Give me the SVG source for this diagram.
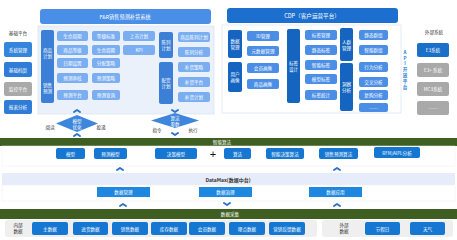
<svg xmlns="http://www.w3.org/2000/svg" width="457" height="240" viewBox="0 0 457 240">
<style>
text{font-family:"Noto Sans CJK SC","Noto Sans",sans-serif;font-size:4.6px;text-anchor:middle;dominant-baseline:central}
.w{fill:#fff}
.d{fill:#333}
.fb{fill:#7aaef0}
.fv{fill:#3b80d6}
.cb{fill:#4b8ee6}
.cv{fill:#1565c0}
.lb{fill:#1677d2}
.gr{fill:#a9a9a9}
.chev{fill:none;stroke:#2f74c8;stroke-width:2;stroke-linecap:round;stroke-linejoin:round}
</style>
<rect width="457" height="240" fill="#fff"/>
<!-- panels -->
<rect x="38" y="26" width="176" height="88" fill="#eaf1fb" stroke="#d3deed" stroke-width="0.6"/>
<rect x="222" y="25" width="179" height="88" fill="#fff" stroke="#d3deed" stroke-width="0.6"/>
<g id="fr-title"><rect x="40" y="9" width="171" height="15" rx="3" fill="#4a8fe7"/><text x="125" y="16.5" class="w" style="font-size:5.2px">F&amp;R销售预测补货系统</text></g>
<g id="cdp-title"><rect x="227" y="8" width="171" height="15" rx="3" fill="#1c6fce"/><text x="312" y="15.5" class="w" style="font-size:5.6px">CDP（客户运营平台）</text></g>
<!-- base platform -->
<text x="18" y="33" class="d">基础平台</text>
<g id="b1"><rect x="4" y="42" width="28" height="15" rx="2" fill="#3585dc"/><text x="18" y="49.5" class="w">系统管理</text></g>
<g id="b2"><rect x="4" y="62" width="28" height="15" rx="2" fill="#2f7dd6"/><text x="18" y="69.5" class="w">基础档案</text></g>
<g id="b3"><rect x="4" y="82" width="28" height="14" rx="2" class="gr"/><text x="18" y="89" class="w">监控平台</text></g>
<g id="b4"><rect x="4" y="100" width="28" height="14" rx="2" fill="#2f7dd6"/><text x="18" y="107" class="w">报表分析</text></g>
<!-- F&R -->
<g id="v1"><rect x="41" y="30" width="13" height="47" rx="2" class="fv"/><text x="47.5" y="50" class="w">商品</text><text x="47.5" y="56" class="w">计划</text></g>
<g id="v2"><rect x="41" y="73" width="13" height="30" rx="2" class="fv"/><text x="47.5" y="85" class="w">销售</text><text x="47.5" y="91" class="w">预测</text></g>
<g id="f1"><rect x="57" y="31" width="31" height="10" rx="2" class="fb"/><text x="72.5" y="36" class="w">生命周期</text></g>
<g id="f2"><rect x="92" y="31" width="28" height="10" rx="2" class="fb"/><text x="106" y="36" class="w">等级标准</text></g>
<g id="f3"><rect x="123" y="31" width="32" height="10" rx="2" class="fb"/><text x="139" y="36" class="w">上市计划</text></g>
<g id="f4"><rect x="57" y="45" width="31" height="10" rx="2" class="fb"/><text x="72.5" y="50" class="w">商品等级</text></g>
<g id="f5"><rect x="92" y="45" width="28" height="10" rx="2" class="fb"/><text x="106" y="50" class="w">生命周期</text></g>
<g id="f6"><rect x="123" y="45" width="32" height="10" rx="2" class="fb"/><text x="139" y="50" class="w">KPI</text></g>
<g id="f7"><rect x="57" y="58" width="31" height="10" rx="2" class="fb"/><text x="72.5" y="63" class="w">日期设置</text></g>
<g id="f8"><rect x="92" y="58" width="28" height="10" rx="2" class="fb"/><text x="106" y="63" class="w">分配策略</text></g>
<g id="f9"><rect x="57" y="73" width="31" height="10" rx="2" class="fb"/><text x="72.5" y="78" class="w">预测审核</text></g>
<g id="f10"><rect x="92" y="73" width="28" height="10" rx="2" class="fb"/><text x="106" y="78" class="w">预测策略</text></g>
<g id="f11"><rect x="57" y="90" width="31" height="10" rx="2" class="fb"/><text x="72.5" y="95" class="w">预测平台</text></g>
<g id="f12"><rect x="92" y="90" width="28" height="10" rx="2" class="fb"/><text x="106" y="95" class="w">预测查询</text></g>
<g id="v3"><rect x="159" y="32" width="14" height="26" rx="2" class="fv"/><text x="166" y="42" class="w">陈列</text><text x="166" y="48" class="w">计划</text></g>
<g id="v4"><rect x="159" y="62" width="14" height="42" rx="2" class="fv"/><text x="166" y="80" class="w">配货</text><text x="166" y="86" class="w">计划</text></g>
<g id="f13"><rect x="178" y="32" width="32" height="10" rx="2" class="fb"/><text x="194" y="37" class="w">商品陈列计划</text></g>
<g id="f14"><rect x="178" y="47" width="32" height="10" rx="2" class="fb"/><text x="194" y="52" class="w">陈列分析</text></g>
<g id="f15"><rect x="178" y="62" width="32" height="10" rx="2" class="fb"/><text x="194" y="67" class="w">补货策略</text></g>
<g id="f16"><rect x="178" y="77" width="32" height="10" rx="2" class="fb"/><text x="194" y="82" class="w">补货平台</text></g>
<g id="f17"><rect x="178" y="92" width="32" height="10" rx="2" class="fb"/><text x="194" y="97" class="w">补货计划</text></g>
<!-- CDP -->
<g id="c-v1"><rect x="228" y="30" width="14" height="28" rx="2" class="cv"/><text x="235" y="41" class="w">数据</text><text x="235" y="47" class="w">管理</text></g>
<g id="c-v2"><rect x="228" y="62" width="14" height="30" rx="2" class="cv"/><text x="235" y="74" class="w">用户</text><text x="235" y="80" class="w">画像</text></g>
<g id="c1"><rect x="247" y="31" width="32" height="10" rx="2" class="cb"/><text x="263" y="36" class="w">ID管理</text></g>
<g id="c2"><rect x="247" y="46" width="32" height="10" rx="2" class="cb"/><text x="263" y="51" class="w">元数据管理</text></g>
<g id="c3"><rect x="247" y="63" width="32" height="10" rx="2" class="cb"/><text x="263" y="68" class="w">会员画像</text></g>
<g id="c4"><rect x="247" y="79" width="32" height="10" rx="2" class="cb"/><text x="263" y="84" class="w">商品画像</text></g>
<g id="c-v3"><rect x="287" y="29" width="13" height="74" rx="2" class="cv"/><text x="293.5" y="63" class="w">标签</text><text x="293.5" y="69" class="w">设计</text></g>
<g id="c5"><rect x="305" y="30" width="32" height="10" rx="2" class="cb"/><text x="321" y="35" class="w">标签管理</text></g>
<g id="c6"><rect x="305" y="45" width="32" height="10" rx="2" class="cb"/><text x="321" y="50" class="w">静态标签</text></g>
<g id="c7"><rect x="305" y="60" width="32" height="10" rx="2" class="cb"/><text x="321" y="65" class="w">智能标签</text></g>
<g id="c8"><rect x="305" y="74" width="32" height="10" rx="2" class="cb"/><text x="321" y="79" class="w">模型标签</text></g>
<g id="c9"><rect x="305" y="90" width="32" height="10" rx="2" class="cb"/><text x="321" y="95" class="w">标签统计</text></g>
<g id="c-v4"><rect x="340" y="28" width="13" height="33" rx="2" class="cv"/><text x="346.5" y="41.5" class="w">人群</text><text x="346.5" y="47.5" class="w">管理</text></g>
<g id="c-v5"><rect x="340" y="63" width="13" height="48" rx="2" class="cv"/><text x="346.5" y="84" class="w">洞察</text><text x="346.5" y="90" class="w">分析</text></g>
<g id="c10"><rect x="359" y="30" width="29" height="10" rx="2" class="cb"/><text x="373.5" y="35" class="w">静态群组</text></g>
<g id="c11"><rect x="359" y="45" width="29" height="10" rx="2" class="cb"/><text x="373.5" y="50" class="w">智能群组</text></g>
<g id="c12"><rect x="359" y="62" width="29" height="10" rx="2" class="cb"/><text x="373.5" y="67" class="w">行为分析</text></g>
<g id="c13"><rect x="359" y="77" width="29" height="10" rx="2" class="cb"/><text x="373.5" y="82" class="w">交叉分析</text></g>
<g id="c14"><rect x="359" y="90" width="29" height="10" rx="2" class="cb"/><text x="373.5" y="95" class="w">复购分析</text></g>
<g id="c15"><rect x="359" y="103" width="29" height="9" rx="2" class="cb"/><text x="373.5" y="107.5" class="w">……</text></g>
<g id="api" style="font-weight:bold">
<text x="405" y="52" style="fill:#2b7fd8;font-size:4.6px">A</text>
<text x="405" y="57.5" style="fill:#2b7fd8;font-size:4.6px">P</text>
<text x="405" y="63" style="fill:#2b7fd8;font-size:4.6px">I</text>
<text x="405" y="69" style="fill:#2b7fd8;font-size:4.6px">开</text>
<text x="405" y="75" style="fill:#2b7fd8;font-size:4.6px">放</text>
<text x="405" y="81" style="fill:#2b7fd8;font-size:4.6px">平</text>
<text x="405" y="87" style="fill:#2b7fd8;font-size:4.6px">台</text>
</g>
<!-- external -->
<text x="434" y="32" class="d">外部系统</text>
<g id="e1"><rect x="417" y="43" width="32" height="14" rx="2" fill="#1a6fc9"/><text x="433" y="50" class="w">E3系统</text></g>
<g id="e2"><rect x="417" y="63" width="32" height="14" rx="2" class="gr"/><text x="433" y="70" class="w">E3+ 系统</text></g>
<g id="e3"><rect x="417" y="82" width="32" height="14" rx="2" class="gr"/><text x="433" y="89" class="w">MC3系统</text></g>
<g id="e4"><rect x="417" y="101" width="32" height="14" rx="2" class="gr"/><text x="433" y="108" class="w">……</text></g>
<!-- diamonds -->
<g id="dm1"><polygon points="77,115 98,123.5 77,132 56,123.5" fill="#3d86dc"/><text x="77" y="121" class="w">模型</text><text x="77" y="126.5" class="w">优化</text></g>
<g id="dm2"><polygon points="175,113 199,120.5 175,128 151,120.5" fill="#3d86dc"/><text x="175" y="118" class="w">算法</text><text x="175" y="123.5" class="w">参数</text></g>
<text x="50" y="127" class="d">阅读</text>
<text x="101" y="127" class="d">投递</text>
<text x="157" y="130" class="d">指令</text>
<text x="193" y="130" class="d">执行</text>
<!-- intelligent algorithm -->
<g id="alg-bar"><rect x="0" y="138" width="457" height="8" fill="#3f5f22"/><text x="222" y="142" class="w">智能算法</text></g>
<rect x="2" y="146" width="453" height="20" fill="#fff" stroke="#eee" stroke-width="0.5"/>
<g id="a1"><rect x="56" y="148" width="29" height="11" rx="2" class="lb"/><text x="70.5" y="153.5" class="w">模型</text></g>
<g id="a2"><rect x="94" y="148" width="33" height="11" rx="2" class="lb"/><text x="110.5" y="153.5" class="w">预测模型</text></g>
<g id="a3"><rect x="155" y="148" width="42" height="11" rx="2" class="lb"/><text x="176" y="153.5" class="w">决策模型</text></g>
<text x="213" y="154" style="font-size:11px;fill:#111;font-family:'Liberation Sans',sans-serif">+</text>
<g id="a4"><rect x="224" y="148" width="27" height="11" rx="2" class="lb"/><text x="237.5" y="153.5" class="w">算法</text></g>
<g id="a5"><rect x="266" y="148" width="38" height="11" rx="2" class="lb"/><text x="285" y="153.5" class="w">智能决策算法</text></g>
<g id="a6"><rect x="319" y="148" width="39" height="11" rx="2" class="lb"/><text x="338.5" y="153.5" class="w">销售预测算法</text></g>
<g id="a7"><rect x="374" y="147" width="46" height="11" rx="2" class="lb"/><text x="397" y="152.5" class="w">RFM/AIPL分析</text></g>
<!-- DataMax -->
<g id="dm-bar"><rect x="2" y="173" width="453" height="12" fill="#e7ecfb"/><text x="228" y="179" class="d" style="font-weight:bold;font-size:5px">DataMax(数据中台)</text></g>
<rect x="2" y="185" width="453" height="16" fill="#fff" stroke="#eee" stroke-width="0.5"/>
<g id="d1"><rect x="97" y="187" width="53" height="10" fill="#1e88e0"/><text x="123.5" y="192" class="w">数据管理</text></g>
<g id="d2"><rect x="199" y="187" width="53" height="10" fill="#1e88e0"/><text x="225.5" y="192" class="w">数据治理</text></g>
<g id="d3"><rect x="309" y="187" width="53" height="10" fill="#1e88e0"/><text x="335.5" y="192" class="w">数据应用</text></g>
<!-- data collection -->
<g id="col-bar"><rect x="0" y="209" width="457" height="10" fill="#3f5f22"/><text x="230" y="214" class="w">数据采集</text></g>
<rect x="5" y="220" width="312" height="17" rx="3" fill="#efefef"/>
<rect x="322" y="220" width="131" height="17" rx="3" fill="#efefef"/>
<text x="18" y="225" class="d">内部</text><text x="18" y="231" class="d">数据</text>
<g id="i1"><rect x="32" y="222" width="36" height="13" rx="2" class="lb"/><text x="50" y="228.5" class="w">主数据</text></g>
<g id="i2"><rect x="73" y="222" width="35" height="13" rx="2" class="lb"/><text x="90.5" y="228.5" class="w">进货数据</text></g>
<g id="i3"><rect x="112" y="222" width="36" height="13" rx="2" class="lb"/><text x="130" y="228.5" class="w">销售数据</text></g>
<g id="i4"><rect x="151" y="222" width="36" height="13" rx="2" class="lb"/><text x="169" y="228.5" class="w">库存数据</text></g>
<g id="i5"><rect x="189" y="222" width="36" height="13" rx="2" class="lb"/><text x="207" y="228.5" class="w">会员数据</text></g>
<g id="i6"><rect x="229" y="222" width="36" height="13" rx="2" class="lb"/><text x="247" y="228.5" class="w">埋点数据</text></g>
<g id="i7"><rect x="269" y="222" width="36" height="13" rx="2" class="lb"/><text x="287" y="228.5" class="w">营销反馈数据</text></g>
<text x="344" y="225" class="d">外部</text><text x="344" y="231" class="d">数据</text>
<g id="x1"><rect x="365" y="222" width="35" height="13" rx="2" class="lb"/><text x="382.5" y="228.5" class="w">节假日</text></g>
<g id="x2"><rect x="410" y="222" width="35" height="13" rx="2" class="lb"/><text x="427.5" y="228.5" class="w">天气</text></g>
<!-- connectors (chevrons) -->
<g id="connectors" class="chev">
<polyline points="74,112 77,110 80,112"/>
<polyline points="74,136 77,134 80,136"/>
<polyline points="172,110 175,112 178,110"/>
<polyline points="172,133 175,135 178,133"/>
<polyline points="117,170 120,168 123,170"/>
<polyline points="334,170 337,168 340,170"/>
<polyline points="120,206 123,204 126,206"/>
<polyline points="224,203 227,205 230,203"/>
<polyline points="334,206 337,204 340,206"/>
</g>
</svg>
